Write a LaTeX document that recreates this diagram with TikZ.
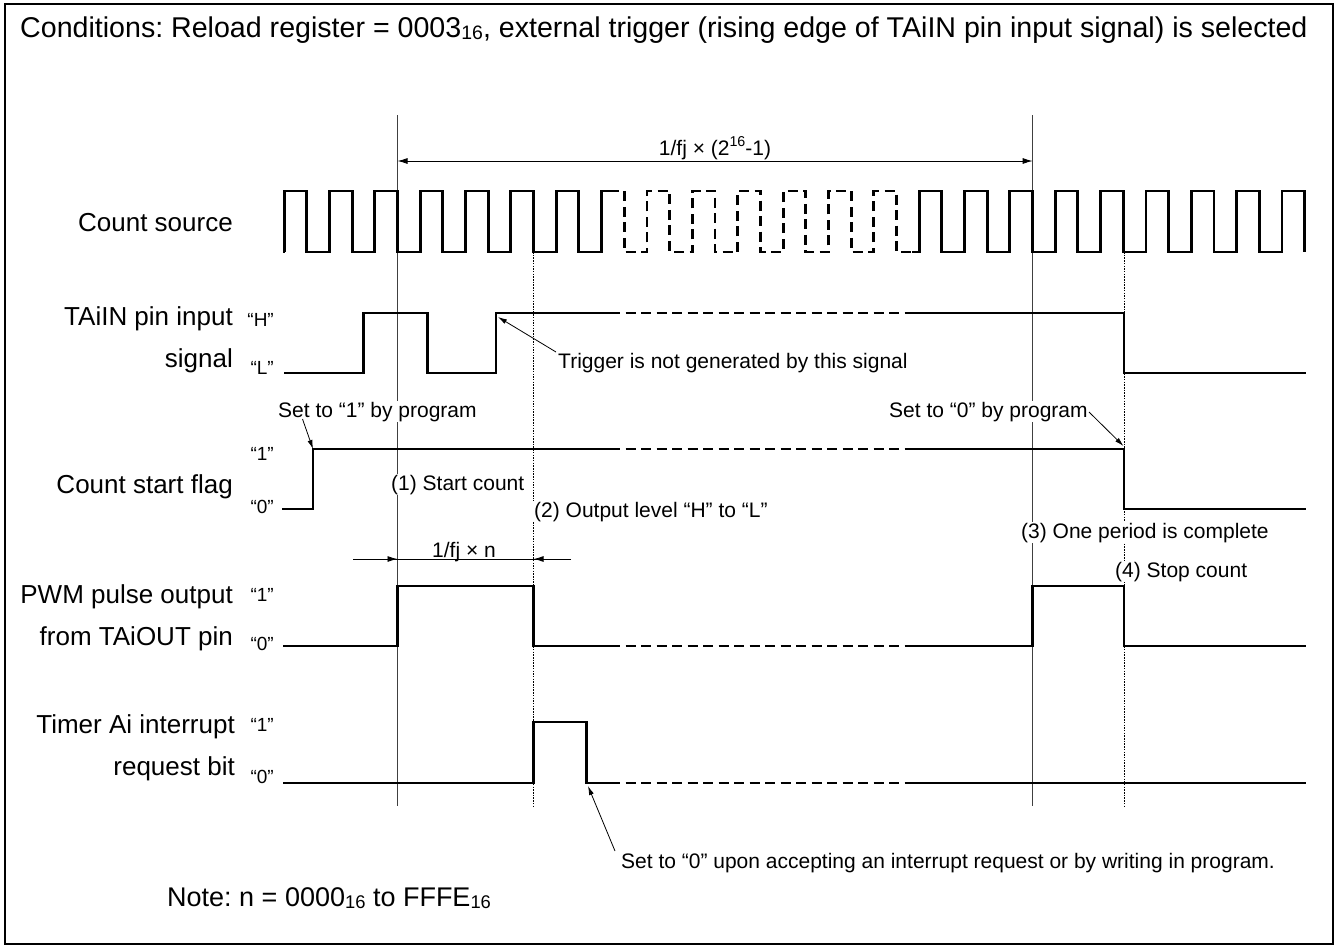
\documentclass[tikz,border=0pt]{standalone}
\usepackage{fontspec}
\setmainfont{Liberation Sans}
\usetikzlibrary{arrows.meta}
\newcommand\lsub[1]{\raisebox{-0.1em}{\scalebox{0.68}{#1}}}
\newcommand\lsup[1]{\raisebox{0.42em}{\scalebox{0.68}{#1}}}
\frenchspacing
\begin{document}
\begin{tikzpicture}[x=1pt,y=-1pt,
  sig/.style={line width=2.9pt, line join=miter},
  sigdash/.style={sig, dash pattern=on 10pt off 5.5pt},
  guide/.style={line width=0.9pt, black!75},
  dotguide/.style={line width=0.9pt, dash pattern=on 1.5pt off 1.2pt},
  ann/.style={font=\fontsize{21}{24}\selectfont, inner sep=1pt, anchor=base west},
  annw/.style={ann, fill=white},
  lab/.style={font=\fontsize{26}{30}\selectfont, inner sep=0pt, anchor=base east},
  lev/.style={font=\fontsize{19}{22}\selectfont, inner sep=0pt, anchor=base east},
  pointer/.style={line width=0.8pt, -{Latex[length=9pt,width=5pt]}},
  dim/.style={line width=0.9pt},
  dimtip/.style={line width=0.9pt, -{Latex[length=10pt,width=6pt]}},
]
\useasboundingbox (0,0) rectangle (1339,948);
\draw[line width=1.5pt] (5,4) rectangle (1333,944);

\def\xA{397.5}\def\xB{533.6}\def\xC{1032.7}\def\xD{1124}
% guide lines
\draw[guide] (\xA,115) -- (\xA,806);
\draw[guide] (\xC,115) -- (\xC,806);
\draw[dotguide] (\xB,252) -- (\xB,806);
\draw[dotguide] (\xD,252) -- (\xD,806);

% title
\node[font=\fontsize{28.6}{32}\selectfont, anchor=base west, inner sep=0pt] (title) at (20,37)
  {Conditions: Reload register = 0003\lsub{16}, external trigger (rising edge of TAiIN pin input signal) is selected};

% dimension 1/fj x (2^16-1)
\coordinate (dA) at (\xA,161); \coordinate (dC) at (\xC,161);
\draw[dim, {Latex[length=10pt,width=6pt]}-{Latex[length=10pt,width=6pt]}] (dA) -- (dC);
\node[ann, anchor=base] (dimlab) at (715,155) {1/fj × (2\lsup{16}-1)};

% signal labels
\node[lab] (cs) at (233,231) {Count source};
\node[lab] (tin1) at (233,325) {TAiIN pin input};
\node[lab] (tin2) at (233,367) {signal};
\node[lev] (tinH) at (274,326) {“H”};
\node[lev] (tinL) at (274,374) {“L”};
\node[lab] (csf) at (233,493) {Count start flag};
\node[lev] (csf1) at (274,460) {“1”};
\node[lev] (csf0) at (274,513) {“0”};
\node[lab] (pwm1) at (233,603) {PWM pulse output};
\node[lab] (pwm2) at (233,645) {from TAiOUT pin};
\node[lev] (pwmH) at (274,601) {“1”};
\node[lev] (pwmL) at (274,650) {“0”};
\node[lab] (tmr1) at (235,733) {Timer Ai interrupt};
\node[lab] (tmr2) at (235,775) {request bit};
\node[lev] (tmrH) at (274,731) {“1”};
\node[lev] (tmrL) at (274,783) {“0”};

% annotations (white background hides guide lines)
\node[annw] (s1) at (277,417) {Set to “1” by program};
\node[annw] (start1) at (390,490) {(1) Start count};
\node[annw] (out2) at (533,517) {(2) Output level “H” to “L”};
\node[annw] (trig) at (557,368) {Trigger is not generated by this signal};
\node[annw] (s0) at (888,417) {Set to “0” by program};
\node[annw] (p3) at (1020,538) {(3) One period is complete};
\node[annw] (p4) at (1114,577) {(4) Stop count};
\node[ann] (irq) at (620,868) {Set to “0” upon accepting an interrupt request or by writing in program.};
\node[font=\fontsize{27}{30}\selectfont, anchor=base west, inner sep=0pt] (note) at (167,906)
  {Note: n = 0000\lsub{16} to FFFE\lsub{16}};

% count source clock
\begin{scope}
\clip (0,0) rectangle (616,948) (912,0) rectangle (1339,948);
\draw[sig] (284.14,252) \foreach \k [evaluate=\k as \f using 397.5+45.36*\k, evaluate=\k as \r using 397.5+45.36*\k-22.68] in {-2,...,20} { -- (\r,252) -- (\r,191) -- (\f,191) -- (\f,252) };
\end{scope}
\begin{scope}
\clip (616,0) rectangle (912,948);
\draw[sigdash] (284.14,252) \foreach \k [evaluate=\k as \f using 397.5+45.36*\k, evaluate=\k as \r using 397.5+45.36*\k-22.68] in {-2,...,20} { -- (\r,252) -- (\r,191) -- (\f,191) -- (\f,252) };
\end{scope}

% TAiIN
\draw[sig] (284,373) -- (363.3,373) -- (363.3,313) -- (427.7,313) -- (427.7,373) -- (496,373) -- (496,313) -- (610,313);
\draw[sigdash] (610,313) -- (915,313);
\draw[sig] (915,313) -- (\xD,313) -- (\xD,373) -- (1306,373);
% count start flag
\draw[sig] (282,509) -- (313,509) -- (313,449) -- (610,449);
\draw[sigdash] (610,449) -- (915,449);
\draw[sig] (915,449) -- (\xD,449) -- (\xD,509) -- (1306,509);
% PWM output
\draw[sig] (283,646) -- (\xA,646) -- (\xA,586) -- (\xB,586) -- (\xB,646) -- (610,646);
\draw[sigdash] (610,646) -- (915,646);
\draw[sig] (915,646) -- (\xC,646) -- (\xC,586) -- (\xD,586) -- (\xD,646) -- (1306,646);
% Timer Ai interrupt request bit
\draw[sig] (283,783) -- (\xB,783) -- (\xB,722) -- (586.7,722) -- (586.7,783) -- (610,783);
\draw[sigdash] (610,783) -- (915,783);
\draw[sig] (915,783) -- (1306,783);

% dimension 1/fj x n
\coordinate (nL) at (353,559); \coordinate (nR) at (571,559);
\coordinate (nA) at (\xA,559); \coordinate (nB) at (\xB,559);
\draw[dim] (nL) -- (nR);
\draw[dimtip] (nL) -- (nA);
\draw[dimtip] (nR) -- (nB);
\node[ann, anchor=base, inner sep=0pt] (nlab) at (464,557) {1/fj × n};

% pointer arrows
\coordinate (s1s) at (302.5,419); \coordinate (s1t) at (313,449);
\draw[pointer] (s1s) -- (s1t);
\coordinate (trs) at (556,352); \coordinate (trt) at (498,317);
\draw[pointer] (trs) -- (trt);
\coordinate (s0s) at (1089,412); \coordinate (s0t) at (1123.5,446);
\draw[pointer] (s0s) -- (s0t);
\coordinate (irqs) at (615,851); \coordinate (irqt) at (588,786);
\draw[pointer] (irqs) -- (irqt);
\end{tikzpicture}
\end{document}
